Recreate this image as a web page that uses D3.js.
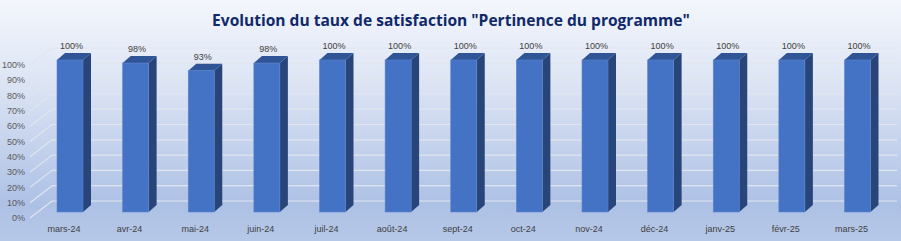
<!DOCTYPE html>
<html>
<head>
    <meta charset="utf-8">
    <title>Evolution du taux de satisfaction</title>
    <script src="https://cdnjs.cloudflare.com/ajax/libs/d3/7.8.5/d3.min.js"></script>
    <style>
        body { margin: 0; }
        svg { display: block; }
        text { font-family: "Liberation Sans", Arial, sans-serif; }
    </style>
</head>
<body>
    <div id="chart"></div>

    <script>
        // Data
        const categories = ['mars-24', 'avr-24', 'mai-24', 'juin-24', 'juil-24', 'août-24', 'sept-24',
            'oct-24', 'nov-24', 'déc-24', 'janv-25', 'févr-25', 'mars-25'];
        const values = [1.00, 0.98, 0.93, 0.98, 1.00, 1.00, 1.00, 1.00, 1.00, 1.00, 1.00, 1.00, 1.00];
        const tickValues = [0, 0.1, 0.2, 0.3, 0.4, 0.5, 0.6, 0.7, 0.8, 0.9, 1.0];
        const title = 'Evolution du taux de satisfaction "Pertinence du programme"';

        const width = 901;
        const height = 241;

        const svg = d3.select('#chart')
            .append('svg')
            .attr('width', width)
            .attr('height', height);

        // background gradient
        const defs = svg.append('defs');
        const grad = defs.append('linearGradient')
            .attr('id', 'bg')
            .attr('x1', 0).attr('y1', 0).attr('x2', 0).attr('y2', 1);
        grad.append('stop').attr('offset', '0%').attr('stop-color', '#f3f6fc');
        grad.append('stop').attr('offset', '35%').attr('stop-color', '#dce4f4');
        grad.append('stop').attr('offset', '85%').attr('stop-color', '#adc1e5');
        grad.append('stop').attr('offset', '100%').attr('stop-color', '#b6c8e8');

        svg.append('rect')
            .attr('width', width)
            .attr('height', height)
            .attr('fill', 'url(#bg)');

        // 3D geometry: front plane, back wall, bar depth
        const wallDx = 22, wallDy = -17;
        const barDx = 8, barDy = -7;

        const yFront = d3.scaleLinear().domain([0, 1]).range([218, 65]);
        const yBack = v => yFront(v) + wallDy;
        const yBar = d3.scaleLinear().domain([0, 1]).range([212, 60]);

        const x = d3.scalePoint()
            .domain(categories)
            .range([70, 857.5]);
        const barW = 26;

        // gridlines: back wall + left side wall
        const grid = svg.append('g')
            .attr('stroke', '#e1e5ee')
            .attr('stroke-width', 1.2)
            .attr('fill', 'none');

        grid.selectAll('line.back')
            .data(tickValues)
            .join('line')
            .attr('class', 'back')
            .attr('x1', 30 + wallDx).attr('x2', 897)
            .attr('y1', d => yBack(d)).attr('y2', d => yBack(d));

        grid.selectAll('line.side')
            .data(tickValues)
            .join('line')
            .attr('class', 'side')
            .attr('x1', 30).attr('x2', 30 + wallDx)
            .attr('y1', d => yFront(d)).attr('y2', d => yBack(d));

        // y axis labels
        svg.append('g')
            .selectAll('text')
            .data(tickValues)
            .join('text')
            .attr('x', 25)
            .attr('y', d => yFront(d))
            .attr('dy', '0.35em')
            .attr('text-anchor', 'end')
            .attr('font-size', 9)
            .attr('fill', '#595959')
            .text(d => d3.format('.0%')(d));

        // bars
        const bars = svg.append('g')
            .selectAll('g')
            .data(categories.map((c, i) => ({ cat: c, value: values[i] })))
            .join('g');

        // side face
        bars.append('path')
            .attr('fill', '#28457a')
            .attr('d', d => {
                const x1 = x(d.cat) + barW / 2;
                const yt = yBar(d.value), yb = yBar(0);
                return `M${x1},${yt}L${x1 + barDx},${yt + barDy}L${x1 + barDx},${yb + barDy}L${x1},${yb}Z`;
            });

        // top face
        bars.append('path')
            .attr('fill', '#2f5597')
            .attr('d', d => {
                const x0 = x(d.cat) - barW / 2, x1 = x(d.cat) + barW / 2;
                const yt = yBar(d.value);
                return `M${x0},${yt}L${x0 + barDx},${yt + barDy}L${x1 + barDx},${yt + barDy}L${x1},${yt}Z`;
            });

        // front face
        bars.append('rect')
            .attr('fill', '#4472c4')
            .attr('stroke', '#5b84cf')
            .attr('stroke-width', 0.6)
            .attr('x', d => x(d.cat) - barW / 2)
            .attr('y', d => yBar(d.value))
            .attr('width', barW)
            .attr('height', d => yBar(0) - yBar(d.value));

        // value labels
        bars.append('text')
            .attr('x', d => x(d.cat) + 1.5)
            .attr('y', d => yBar(d.value) + barDy - 4)
            .attr('text-anchor', 'middle')
            .attr('font-size', 9)
            .attr('fill', '#404040')
            .text(d => d3.format('.0%')(d.value));

        // category labels
        svg.append('g')
            .selectAll('text')
            .data(categories)
            .join('text')
            .attr('x', d => x(d) - 6)
            .attr('y', 229)
            .attr('dy', '0.35em')
            .attr('text-anchor', 'middle')
            .attr('font-size', 9)
            .attr('fill', '#404040')
            .text(d => d);

        // title
        const t = svg.append('text')
            .attr('x', 451)
            .attr('y', 21)
            .attr('dy', '0.35em')
            .attr('text-anchor', 'middle')
            .attr('font-size', 19)
            .attr('font-weight', 'bold')
            .attr('fill', '#10296a')
            .style('font-family', '"Open Sans", sans-serif')
            .text(title);
        const tw = t.node().getComputedTextLength();
        t.attr('font-size', 19 * 478 / tw);
    </script>
</body>
</html>
